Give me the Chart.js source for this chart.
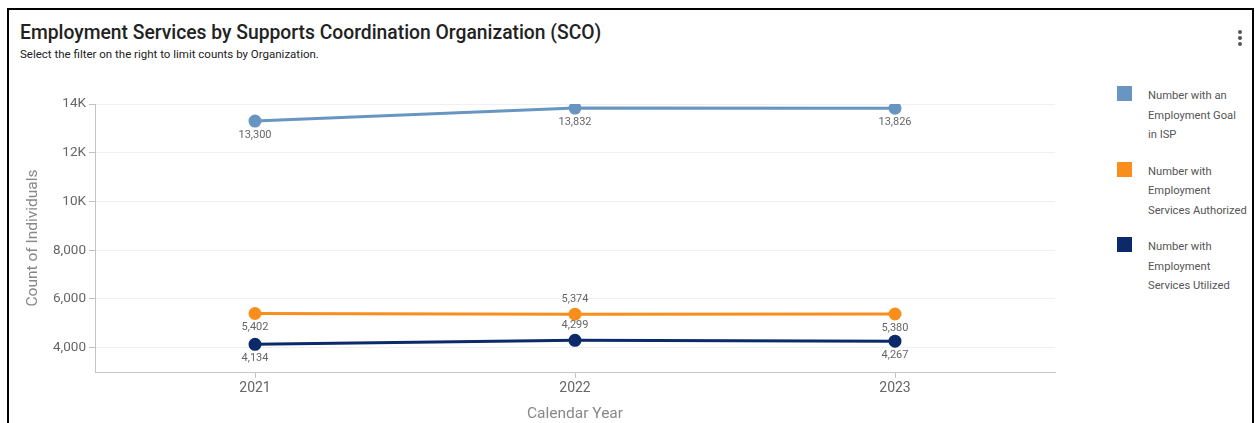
<!DOCTYPE html>
<html>
<head>
<meta charset="utf-8">
<script src="https://cdn.jsdelivr.net/npm/chart.js@4.4.1/dist/chart.umd.min.js"></script>
<style>
  html, body { margin: 0; padding: 0; background: #fff; font-family: Roboto, sans-serif; }
  #frame { position: absolute; left: 7px; top: 8px; width: 1247px; height: 430px;
           border: 2px solid #000; border-bottom: none; box-sizing: border-box; }
  #title { position: absolute; left: 20px; top: 21px; font-size: 19.3px; font-weight: 500; color: #222; white-space: nowrap; }
  #subtitle { position: absolute; left: 20px; top: 47px; font-size: 11.5px; color: #222; white-space: nowrap; }
  #kebab { position: absolute; left: 1238px; top: 30px; width: 4px; }
  #kebab span { display: block; width: 4px; height: 4px; border-radius: 2px; background: #555; margin-bottom: 2px; }
  #chartBox { position: absolute; left: 0; top: 81px; width: 1100px; height: 342px; }
  #legend { position: absolute; left: 1117px; top: 87px; }
  .leg-item { position: relative; margin-bottom: 18px; }
  .leg-box { position: absolute; left: 0; top: 0; width: 15px; height: 15px; }
  .leg-text { margin-left: 31px; font-size: 11.2px; line-height: 19.5px; color: #555; width: 115px; margin-top: -1px; }
</style>
</head>
<body>
<div id="frame"></div>
<div id="title">Employment Services by Supports Coordination Organization (SCO)</div>
<div id="subtitle">Select the filter on the right to limit counts by Organization.</div>
<div id="kebab"><span></span><span></span><span></span></div>
<div id="chartBox"><canvas id="chart"></canvas></div>
<div id="legend"></div>

<script>
// datos
const years = ['2021', '2022', '2023'];
const goalInIsp = [13300, 13832, 13826];
const servicesAuthorized = [5402, 5374, 5380];
const servicesUtilized = [4134, 4299, 4267];
const yTicks = [4000, 6000, 8000, 10000, 12000, 14000];

const seriesNames = [
    'Number with an Employment Goal in ISP',
    'Number with Employment Services Authorized',
    'Number with Employment Services Utilized'
];
// lineas de la leyenda (como en la imagen)
const legendLines = [
    ['Number with an', 'Employment Goal', 'in ISP'],
    ['Number with', 'Employment', 'Services Authorized'],
    ['Number with', 'Employment', 'Services Utilized']
];
const colors = ['#6895c2', '#f98e1d', '#0c2a6a'];
// etiqueta arriba (true) o abajo (false) de cada punto
const labelAbove = [
    [false, false, false],
    [false, true, false],
    [false, true, false]
];

function fmt(v) {
    return v.toLocaleString('en-US');
}

// Etiquetas de valores
const valueLabels = {
    id: 'valueLabels',
    afterDatasetsDraw(chart) {
        const ctx = chart.ctx;
        ctx.save();
        ctx.font = '11px Roboto, sans-serif';
        ctx.fillStyle = '#666';
        ctx.textAlign = 'center';
        ctx.textBaseline = 'middle';
        chart.data.datasets.forEach((ds, di) => {
            const meta = chart.getDatasetMeta(di);
            meta.data.forEach((pt, i) => {
                const dy = labelAbove[di][i] ? -15 : 14;
                ctx.fillText(fmt(ds.data[i]), pt.x, pt.y + dy);
            });
        });
        ctx.restore();
    }
};

const datasets = [goalInIsp, servicesAuthorized, servicesUtilized].map((d, i) => ({
    label: seriesNames[i],
    data: d,
    borderColor: colors[i],
    backgroundColor: colors[i],
    borderWidth: 3,
    pointRadius: 5,
    pointHoverRadius: 5,
    tension: 0
}));

const chart = new Chart(document.getElementById('chart'), {
    type: 'line',
    data: { labels: years, datasets: datasets },
    options: {
        responsive: true,
        maintainAspectRatio: false,
        animation: false,
        layout: { padding: { left: 20, right: 45, top: 23, bottom: 0 } },
        plugins: {
            legend: { display: false },
            tooltip: { enabled: false }
        },
        scales: {
            x: {
                offset: true,
                grid: { offset: false, drawOnChartArea: false, tickLength: 6, tickColor: '#c4c4c4' },
                border: { color: '#c4c4c4', width: 1 },
                ticks: { color: '#666', font: { size: 14, family: 'Roboto' }, padding: 2 },
                title: { display: true, text: 'Calendar Year', color: '#888', font: { size: 15.5, family: 'Roboto' }, padding: { top: 14, bottom: 0 } },
                afterFit: s => { s.height = 51; }
            },
            y: {
                min: 3000,
                max: 14000,
                afterBuildTicks: axis => { axis.ticks = yTicks.map(v => ({ value: v })); },
                grid: { color: '#f0f0f0', tickColor: '#c4c4c4', tickLength: 6 },
                border: { color: '#c4c4c4', width: 1 },
                ticks: {
                    color: '#666',
                    font: { size: 13.5, family: 'Roboto' },
                    padding: 3,
                    callback: v => v >= 10000 ? (v / 1000) + 'K' : fmt(v)
                },
                title: { display: true, text: 'Count of Individuals', color: '#888', font: { size: 15.5, family: 'Roboto' }, padding: { top: 4, bottom: 7 } },
                afterFit: s => { s.width = 75; }
            }
        }
    },
    plugins: [valueLabels]
});

// Leyenda HTML
const legend = document.getElementById('legend');
chart.data.datasets.forEach((ds, i) => {
    const item = document.createElement('div');
    item.className = 'leg-item';
    item.innerHTML = `<div class="leg-box" style="background:${ds.borderColor}"></div>
      <div class="leg-text">${legendLines[i].join('<br>')}</div>`;
    legend.appendChild(item);
});
</script>
</body>
</html>
